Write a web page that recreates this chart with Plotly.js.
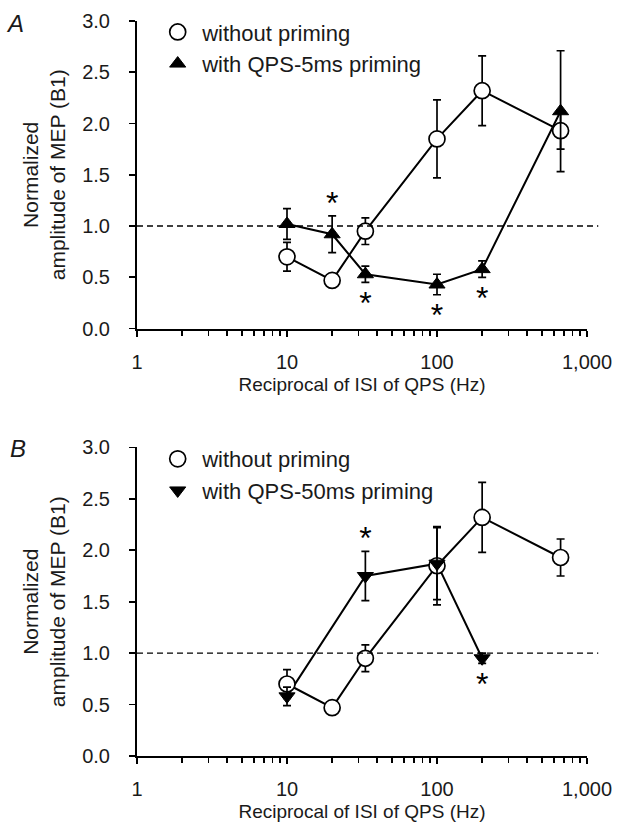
<!DOCTYPE html>
<html>
<head>
<meta charset="utf-8">
<script src="https://cdn.plot.ly/plotly-3.0.1.min.js"></script>
<style>
  html, body { margin: 0; padding: 0; background: #ffffff; }
  #chart { width: 617px; height: 828px; }
</style>
</head>
<body>
<div id="chart"></div>
<script>
// Reciprocal of ISI of QPS (Hz)
const freqs = [10, 20, 33.3, 100, 200, 666.7];
const freqsB = [10, 33.3, 100, 200];

// Without priming (same in both panels)
const withoutMean = [0.70, 0.47, 0.95, 1.85, 2.32, 1.93];
const withoutSE   = [0.14, 0.03, 0.13, 0.38, 0.34, 0.18];

// Panel A: with QPS-5ms priming
const qps5Mean = [1.02, 0.92, 0.53, 0.43, 0.58, 2.12];
const qps5SE   = [0.15, 0.18, 0.08, 0.10, 0.08, 0.59];
const qps5Sig  = [0, 1, -1, -1, -1, 0];   // 1 = star above, -1 = star below

// Panel B: with QPS-50ms priming
const qps50Mean = [0.58, 1.75, 1.87, 0.95];
const qps50SE   = [0.09, 0.24, 0.35, 0.05];
const qps50Sig  = [0, 1, 0, -1];

const xTickVals = [1, 10, 100, 1000];
const xTickText = ['1', '10', '100', '1,000'];
const yTickVals = [0, 0.5, 1, 1.5, 2, 2.5, 3];

const FONT = 'Liberation Sans, Arial, Helvetica, sans-serif';
const TXT = '#1a1a1a';

function errBar(se) {
  return {type: 'data', array: se, visible: true, color: '#000', thickness: 1.7, width: 4};
}

function starTrace(xs, means, ses, sig, xa, ya) {
  const sx = [], sy = [];
  sig.forEach((s, i) => {
    if (s !== 0) {
      sx.push(xs[i]);
      sy.push(s > 0 ? means[i] + ses[i] + 0.10 : means[i] - ses[i] - 0.23);
    }
  });
  return {
    x: sx, y: sy, xaxis: xa, yaxis: ya, mode: 'text', text: sx.map(() => '*'),
    textposition: 'middle center', textfont: {size: 32, color: '#000', family: FONT},
    showlegend: false, hoverinfo: 'skip'
  };
}

const circleMarker = {symbol: 'circle', size: 16, color: '#fff', line: {color: '#000', width: 1.7}};
const lineStyle = {color: '#000', width: 2};

function lineTrace(xs, ys, xa, ya) {
  return {x: xs, y: ys, xaxis: xa, yaxis: ya, mode: 'lines', line: lineStyle,
          showlegend: false, hoverinfo: 'skip'};
}

const traces = [
  // Panel A
  lineTrace(freqs, withoutMean, 'x', 'y'),
  lineTrace(freqs, qps5Mean, 'x', 'y'),
  {
    x: freqs, y: withoutMean, error_y: errBar(withoutSE), xaxis: 'x', yaxis: 'y',
    mode: 'markers', name: 'without priming', marker: circleMarker, legend: 'legend'
  },
  {
    x: freqs, y: qps5Mean, error_y: errBar(qps5SE), xaxis: 'x', yaxis: 'y',
    mode: 'markers', name: 'with QPS-5ms priming',
    marker: {symbol: 'triangle-up', size: 14, color: '#000', line: {color: '#000', width: 1}},
    legend: 'legend'
  },
  starTrace(freqs, qps5Mean, qps5SE, qps5Sig, 'x', 'y'),
  // Panel B
  lineTrace(freqs, withoutMean, 'x2', 'y2'),
  lineTrace(freqsB, qps50Mean, 'x2', 'y2'),
  {
    x: freqs, y: withoutMean, error_y: errBar(withoutSE), xaxis: 'x2', yaxis: 'y2',
    mode: 'markers', name: 'without priming', marker: circleMarker, legend: 'legend2'
  },
  {
    x: freqsB, y: qps50Mean, error_y: errBar(qps50SE), xaxis: 'x2', yaxis: 'y2',
    mode: 'markers', name: 'with QPS-50ms priming',
    marker: {symbol: 'triangle-down', size: 14, color: '#000', line: {color: '#000', width: 1}},
    legend: 'legend2'
  },
  starTrace(freqsB, qps50Mean, qps50SE, qps50Sig, 'x2', 'y2')
];

function xAxis(anchor) {
  return {
    type: 'log', range: [0, 3], anchor: anchor,
    tickmode: 'array', tickvals: xTickVals, ticktext: xTickText,
    ticks: 'outside', ticklen: 6, tickwidth: 1.7, tickcolor: '#000',
    minor: {ticks: 'outside', ticklen: 5, tickwidth: 1.7, tickcolor: '#000', dtick: 'D1', showgrid: false},
    showline: true, linecolor: '#000', linewidth: 2,
    showgrid: false, zeroline: false,
    ticklabelstandoff: 8,
    tickfont: {size: 20, color: TXT, family: FONT},
    title: {text: 'Reciprocal of ISI of QPS (Hz)', font: {size: 19, color: TXT, family: FONT}, standoff: 6}
  };
}
function yAxis(anchor, domain) {
  return {
    range: [0, 3], domain: domain, anchor: anchor,
    tickmode: 'array', tickvals: yTickVals, tickformat: '.1f',
    ticks: 'outside', ticklen: 6, tickwidth: 1.7, tickcolor: '#000',
    showline: true, linecolor: '#000', linewidth: 2,
    showgrid: false, zeroline: false,
    ticklabelstandoff: 15,
    tickfont: {size: 20, color: TXT, family: FONT},
    title: {text: 'Normalized<br>amplitude of MEP (B1)', font: {size: 21, color: TXT, family: FONT}, standoff: 11}
  };
}

const legendCommon = {
  xanchor: 'left', yanchor: 'top', bgcolor: 'rgba(0,0,0,0)',
  font: {size: 22, color: TXT, family: FONT},
  traceorder: 'normal', itemwidth: 39
};

const layout = {
  width: 617, height: 828,
  margin: {l: 137, r: 30, t: 20, b: 72},
  paper_bgcolor: '#fff', plot_bgcolor: '#fff',
  font: {family: FONT, color: TXT},
  showlegend: true,
  xaxis: xAxis('y'),
  yaxis: yAxis('x', [0.5815, 1]),
  xaxis2: xAxis('y2'),
  yaxis2: yAxis('x2', [0, 0.4198]),
  legend: Object.assign({x: 0.036, y: 1.012}, legendCommon),
  legend2: Object.assign({x: 0.036, y: 0.432}, legendCommon),
  shapes: [
    {type: 'line', xref: 'x domain', yref: 'y', x0: 0, x1: 1.025, y0: 1, y1: 1,
     line: {color: '#000', width: 1.4, dash: '6px,4px'}},
    {type: 'line', xref: 'x2 domain', yref: 'y2', x0: 0, x1: 1.025, y0: 1, y1: 1,
     line: {color: '#000', width: 1.4, dash: '6px,4px'}}
  ],
  annotations: [
    {text: '<i>A</i>', xref: 'paper', yref: 'paper', x: -0.27, y: 0.996, xanchor: 'center', yanchor: 'middle',
     showarrow: false, font: {size: 24, color: TXT, family: FONT}},
    {text: '<i>B</i>', xref: 'paper', yref: 'paper', x: -0.265, y: 0.4178, xanchor: 'center', yanchor: 'middle',
     showarrow: false, font: {size: 24, color: TXT, family: FONT}}
  ]
};

Plotly.newPlot('chart', traces, layout, {staticPlot: true, displayModeBar: false});
</script>
</body>
</html>
